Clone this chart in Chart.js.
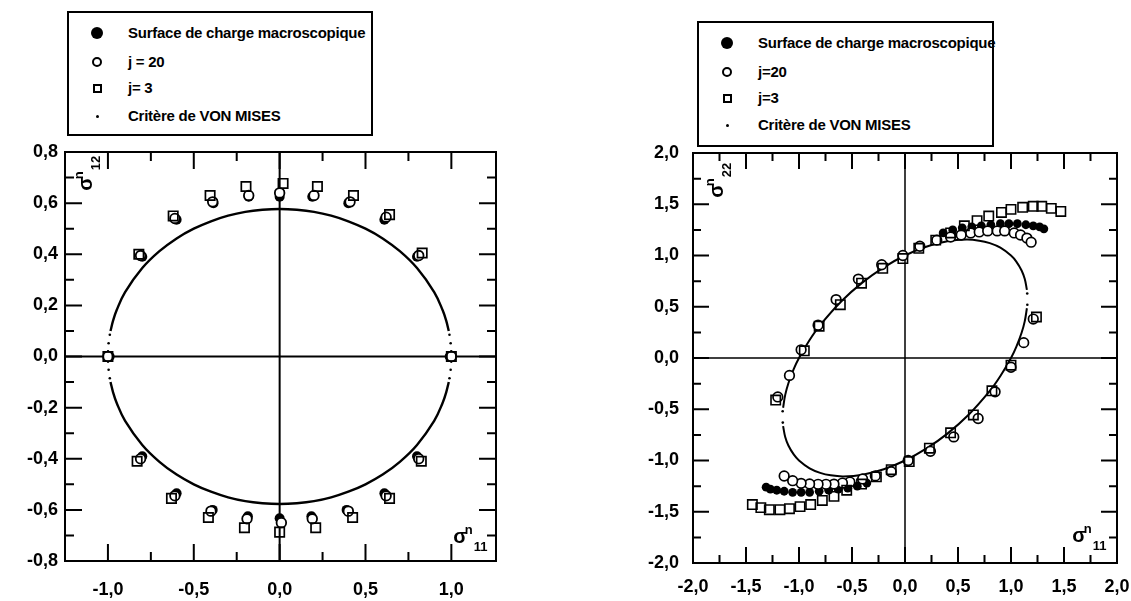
<!DOCTYPE html>
<html>
<head>
<meta charset="utf-8">
<script src="https://cdn.jsdelivr.net/npm/chart.js@4.4.1/dist/chart.umd.min.js"></script>
<style>
  html, body { margin: 0; padding: 0; background: #fff; }
  body { width: 1131px; height: 601px; position: relative; overflow: hidden;
         font-family: "Liberation Sans", Arial, Helvetica, sans-serif; }
  canvas { position: absolute; top: 0; }
  #chartLeft { left: 0; }
  #chartRight { left: 560px; }
  .legend { position: absolute; border: 2px solid #000; box-sizing: border-box; background: #fff; }
  .legend .row { position: absolute; left: 0; right: 0; height: 20px; line-height: 20px;
                 font-weight: bold; font-size: 15px; letter-spacing: -0.25px; color: #000; white-space: nowrap; }
  .legend .mk { position: absolute; top: 50%; box-sizing: border-box; }
  .legend .txt { position: absolute; left: 59px; top: 0; }
  .mk.filled { width: 12px; height: 12px; margin: -6px 0 0 -6px; border-radius: 50%; background: #000; }
  .mk.circle { width: 10px; height: 10px; margin: -5px 0 0 -5px; border-radius: 50%; border: 2px solid #000; }
  .mk.square { width: 9px; height: 9px; margin: -4.5px 0 0 -4.5px; border: 2px solid #000; }
  .mk.dot { width: 3px; height: 3px; margin: -1.5px 0 0 -1.5px; background: #000; border-radius: 50%; }
</style>
</head>
<body>
<div id="legendLeft" class="legend" style="left:67px; top:11px; width:306px; height:125px;"></div>
<div id="legendRight" class="legend" style="left:697px; top:21px; width:297px; height:126px;"></div>
<canvas id="chartLeft" width="560" height="601"></canvas>
<canvas id="chartRight" width="571" height="601"></canvas>
<script>
// ---------- Left panel : sigma11 / sigma12 ----------
const leftXTicks  = [-1.0, -0.5, 0.0, 0.5, 1.0];
const leftXLabels = ['-1,0', '-0,5', '0,0', '0,5', '1,0'];
const leftXMinor  = [-0.75, -0.25, 0.25, 0.75];
const leftYTicks  = [-0.8, -0.6, -0.4, -0.2, 0.0, 0.2, 0.4, 0.6, 0.8];
const leftYLabels = ['-0,8', '-0,6', '-0,4', '-0,2', '0,0', '0,2', '0,4', '0,6', '0,8'];
const leftYMinor  = [-0.7, -0.5, -0.3, -0.1, 0.1, 0.3, 0.5, 0.7];

const leftSurfX = [-0.99, -0.80, -0.60, -0.385, -0.18, 0.0, 0.19, 0.40, 0.61, 0.80, 0.99,
                   -0.80, -0.60, -0.39, -0.185, 0.0, 0.185, 0.39, 0.61, 0.80];
const leftSurfY = [0.0, 0.39, 0.535, 0.60, 0.625, 0.625, 0.625, 0.60, 0.535, 0.39, 0.0,
                   -0.39, -0.535, -0.60, -0.625, -0.633, -0.625, -0.60, -0.535, -0.39];

const leftJ20X = [-1.0, -0.81, -0.61, -0.39, -0.18, 0.0, 0.20, 0.41, 0.62, 0.81, 1.0,
                  -0.81, -0.61, -0.40, -0.19, 0.01, 0.19, 0.40, 0.62, 0.81];
const leftJ20Y = [0.0, 0.395, 0.54, 0.605, 0.63, 0.64, 0.63, 0.605, 0.545, 0.395, 0.0,
                  -0.40, -0.545, -0.605, -0.635, -0.65, -0.635, -0.605, -0.545, -0.40];

const leftJ3X = [-1.0, -0.82, -0.62, -0.405, -0.196, 0.02, 0.22, 0.43, 0.64, 0.83, 1.0,
                 -0.83, -0.63, -0.415, -0.205, 0.0, 0.21, 0.425, 0.64, 0.825];
const leftJ3Y = [0.0, 0.40, 0.55, 0.63, 0.665, 0.677, 0.665, 0.63, 0.555, 0.405, 0.0,
                 -0.41, -0.555, -0.63, -0.67, -0.687, -0.67, -0.63, -0.555, -0.41];

// Von Mises ellipse, solid arcs and the sparse dots near sigma11 = +/-1
const leftVmX     = [-0.985, -0.97, -0.95, -0.9, -0.8, -0.7, -0.6, -0.5, -0.4, -0.3, -0.2, -0.1, 0.0,
                     0.1, 0.2, 0.3, 0.4, 0.5, 0.6, 0.7, 0.8, 0.9, 0.95, 0.97, 0.985];
const leftVmUpper = [0.10, 0.14, 0.18, 0.252, 0.346, 0.412, 0.462, 0.50, 0.529, 0.551, 0.566, 0.574, 0.577,
                     0.574, 0.566, 0.551, 0.529, 0.50, 0.462, 0.412, 0.346, 0.252, 0.18, 0.14, 0.10];
const leftVmLower = [-0.10, -0.14, -0.18, -0.252, -0.346, -0.412, -0.462, -0.50, -0.529, -0.551, -0.566, -0.574, -0.577,
                     -0.574, -0.566, -0.551, -0.529, -0.50, -0.462, -0.412, -0.346, -0.252, -0.18, -0.14, -0.10];
const leftVmDotX  = [-0.989, -0.996, -0.9994, -0.9994, -0.996, -0.989, 0.989, 0.996, 0.9994, 0.9994, 0.996, 0.989];
const leftVmDotY  = [0.085, 0.052, 0.02, -0.02, -0.052, -0.085, 0.085, 0.052, 0.02, -0.02, -0.052, -0.085];

// ---------- Right panel : sigma11 / sigma22 ----------
const rightXTicks  = [-2.0, -1.5, -1.0, -0.5, 0.0, 0.5, 1.0, 1.5, 2.0];
const rightXLabels = ['-2,0', '-1,5', '-1,0', '-0,5', '0,0', '0,5', '1,0', '1,5', '2,0'];
const rightXMinor  = [-1.75, -1.25, -0.75, -0.25, 0.25, 0.75, 1.25, 1.75];
const rightYTicks  = [-2.0, -1.5, -1.0, -0.5, 0.0, 0.5, 1.0, 1.5, 2.0];
const rightYLabels = ['-2,0', '-1,5', '-1,0', '-0,5', '0,0', '0,5', '1,0', '1,5', '2,0'];
const rightYMinor  = [-1.75, -1.25, -0.75, -0.25, 0.25, 0.75, 1.25, 1.75];

const rightSurfX = [-1.09, -0.98, -0.82, -0.65, -0.44, -0.22, -0.02, 0.14,
                    0.36, 0.45, 0.54, 0.63, 0.72, 0.81, 0.90, 0.98, 1.06, 1.14, 1.21, 1.27, 1.31,
                    1.12, 1.0, 0.85, 0.69, 0.46, 0.24, 0.03, -0.13,
                    -0.36, -0.45, -0.54, -0.63, -0.72, -0.81, -0.90, -0.98, -1.06, -1.14, -1.21, -1.27, -1.31];
const rightSurfY = [-0.17, 0.08, 0.32, 0.57, 0.77, 0.91, 1.0, 1.09,
                    1.22, 1.25, 1.27, 1.28, 1.29, 1.30, 1.31, 1.31, 1.31, 1.30, 1.29, 1.28, 1.26,
                    0.15, -0.09, -0.33, -0.59, -0.77, -0.91, -1.0, -1.11,
                    -1.22, -1.25, -1.27, -1.28, -1.29, -1.30, -1.31, -1.31, -1.31, -1.30, -1.29, -1.28, -1.26];

const rightJ20X = [-1.20, -1.09, -0.98, -0.82, -0.65, -0.44, -0.22, -0.02, 0.14, 0.30,
                   0.43, 0.53, 0.62, 0.70, 0.78, 0.87, 0.94, 1.03, 1.09, 1.15, 1.19,
                   1.21, 1.12, 1.0, 0.85, 0.69, 0.46, 0.24, 0.03, -0.13, -0.28,
                   -0.40, -0.52, -0.59, -0.67, -0.745, -0.82, -0.90, -0.98, -1.06, -1.14];
const rightJ20Y = [-0.38, -0.17, 0.08, 0.32, 0.57, 0.77, 0.91, 1.0, 1.09, 1.15,
                   1.18, 1.20, 1.22, 1.23, 1.24, 1.24, 1.24, 1.22, 1.20, 1.17, 1.13,
                   0.38, 0.15, -0.09, -0.33, -0.59, -0.77, -0.91, -1.0, -1.11, -1.15,
                   -1.18, -1.21, -1.22, -1.23, -1.232, -1.232, -1.229, -1.223, -1.197, -1.151];

const rightJ3X = [-1.22, -0.95, -0.81, -0.61, -0.41, -0.21, -0.02, 0.13,
                  0.29, 0.43, 0.56, 0.68, 0.79, 0.91, 1.0, 1.11, 1.21, 1.29, 1.38, 1.47,
                  1.24, 1.0, 0.82, 0.645, 0.43, 0.23, 0.04, -0.13,
                  -0.27, -0.41, -0.55, -0.67, -0.78, -0.89, -0.99, -1.09, -1.18, -1.28, -1.36, -1.44];
const rightJ3Y = [-0.41, 0.07, 0.31, 0.52, 0.73, 0.875, 0.97, 1.07,
                  1.15, 1.22, 1.29, 1.34, 1.385, 1.42, 1.45, 1.47, 1.48, 1.48, 1.46, 1.43,
                  0.40, -0.07, -0.32, -0.556, -0.73, -0.88, -1.01, -1.09,
                  -1.16, -1.23, -1.29, -1.35, -1.39, -1.43, -1.45, -1.47, -1.48, -1.48, -1.46, -1.43];

// Von Mises ellipse in the (sigma11, sigma22) plane: two solid arcs plus sparse dots at the ends
const rightVmArcAX = [1.15, 1.13, 1.1, 1.05, 1.0, 0.9, 0.8, 0.7, 0.58, 0.4, 0.2, 0.0, -0.2, -0.4, -0.6, -0.8, -0.9, -1.0, -1.05, -1.1, -1.13, -1.15];
const rightVmArcAY = [0.665, 0.771, 0.854, 0.941, 1.0, 1.077, 1.121, 1.145, 1.155, 1.138, 1.085, 1.0, 0.885, 0.738, 0.554, 0.321, 0.176, 0.0, -0.109, -0.246, -0.36, -0.485];
const rightVmArcBX = [-1.15, -1.13, -1.1, -1.05, -1.0, -0.9, -0.8, -0.7, -0.58, -0.4, -0.2, 0.0, 0.2, 0.4, 0.6, 0.8, 0.9, 1.0, 1.05, 1.1, 1.13, 1.15];
const rightVmArcBY = [-0.665, -0.771, -0.854, -0.941, -1.0, -1.077, -1.121, -1.145, -1.155, -1.138, -1.085, -1.0, -0.885, -0.738, -0.554, -0.321, -0.176, 0.0, 0.109, 0.246, 0.36, 0.485];
const rightVmDotX  = [1.153, 1.154, -1.153, -1.154];
const rightVmDotY  = [0.63, 0.52, -0.63, -0.52];

// ---------- Legends ----------
const leftLegendLabels  = ['Surface de charge macroscopique', 'j = 20', 'j= 3', 'Critère de VON MISES'];
const rightLegendLabels = ['Surface de charge macroscopique', 'j=20', 'j=3', 'Critère de VON MISES'];
const legendMarkers = ['filled', 'circle', 'square', 'dot'];

function buildLegend(id, labels, rowCenters) {
  const box = document.getElementById(id);
  labels.forEach((label, i) => {
    const row = document.createElement('div');
    row.className = 'row';
    row.style.top = (rowCenters[i] - 10) + 'px';
    const mk = document.createElement('span');
    mk.className = 'mk ' + legendMarkers[i];
    mk.style.left = '28px';
    const txt = document.createElement('span');
    txt.className = 'txt';
    txt.textContent = label;
    row.appendChild(mk);
    row.appendChild(txt);
    box.appendChild(row);
  });
}
buildLegend('legendLeft', leftLegendLabels, [20, 49, 75, 103]);
buildLegend('legendRight', rightLegendLabels, [20, 49, 75, 102]);

// ---------- Chart helpers ----------
const FONT = '"Liberation Sans", Arial, Helvetica, sans-serif';
const pts = (xs, ys) => xs.map((x, i) => ({ x, y: ys[i] }));

function drawSigma(ctx, cx, cy, sub, angle) {
  ctx.save();
  ctx.translate(cx, cy);
  ctx.rotate(angle);
  ctx.fillStyle = '#000';
  ctx.textAlign = 'left';
  ctx.textBaseline = 'alphabetic';
  ctx.font = 'bold 20px ' + FONT;
  const w = ctx.measureText('σ').width;
  ctx.fillText('σ', -w / 2, 6);
  ctx.font = 'bold 13px ' + FONT;
  ctx.fillText('n', w / 2 - 2, -3);
  const wn = ctx.measureText('n').width;
  ctx.fillText(sub, w / 2 + wn - 1, 14);
  ctx.restore();
}

// Box, inward tick marks, zero axes and axis titles
const framePlugin = {
  id: 'frame',
  beforeDatasetsDraw(chart, _args, o) {
    const { ctx, chartArea: a } = chart;
    const x0 = chart.scales.x.getPixelForValue(0);
    const y0 = chart.scales.y.getPixelForValue(0);
    ctx.save();
    ctx.strokeStyle = '#000';
    ctx.lineWidth = o.zeroWidth;
    ctx.beginPath();
    ctx.moveTo(x0, a.top); ctx.lineTo(x0, a.bottom);
    ctx.moveTo(a.left, y0); ctx.lineTo(a.right, y0);
    ctx.stroke();
    ctx.restore();
  },
  afterDatasetsDraw(chart, _args, o) {
    const { ctx, chartArea: a } = chart;
    const sx = chart.scales.x, sy = chart.scales.y;
    ctx.save();
    ctx.strokeStyle = '#000';
    ctx.lineWidth = o.tickWidth;
    ctx.beginPath();
    const vt = (vals, len) => vals.forEach(v => {
      const p = sx.getPixelForValue(v);
      ctx.moveTo(p, a.bottom); ctx.lineTo(p, a.bottom - len);
      ctx.moveTo(p, a.top); ctx.lineTo(p, a.top + len);
    });
    const ht = (vals, len) => vals.forEach(v => {
      const p = sy.getPixelForValue(v);
      ctx.moveTo(a.left, p); ctx.lineTo(a.left + len, p);
      ctx.moveTo(a.right, p); ctx.lineTo(a.right - len, p);
    });
    vt(o.xMajor, o.majorLen); vt(o.xMinor, o.minorLen);
    ht(o.yMajor, o.majorLen); ht(o.yMinor, o.minorLen);
    ctx.stroke();
    ctx.lineWidth = o.boxWidth;
    ctx.strokeRect(a.left, a.top, a.right - a.left, a.bottom - a.top);
    ctx.restore();
    drawSigma(ctx, a.left + o.yTitle[0], a.top + o.yTitle[1], o.yTitle[2], -Math.PI / 2);
    drawSigma(ctx, a.right + o.xTitle[0], a.bottom + o.xTitle[1], o.xTitle[2], 0);
  }
};

function axis(min, max, tickVals, tickLabels, isX, size, pad) {
  return {
    type: 'linear', min, max,
    afterBuildTicks: s => { s.ticks = tickVals.map(v => ({ value: v })); },
    afterFit: s => {
      if (isX) { s.height = size; s.paddingLeft = 0; s.paddingRight = 0; }
      else { s.width = size; s.paddingTop = 0; s.paddingBottom = 0; }
    },
    grid: { display: false, drawTicks: false },
    border: { display: false },
    ticks: {
      autoSkip: false, maxRotation: 0, padding: pad, color: '#000',
      font: { family: FONT, size: 18, weight: 'bold' },
      callback: v => tickLabels[tickVals.findIndex(t => Math.abs(t - v) < 1e-9)]
    }
  };
}

function lineSet(data, width) {
  return { data, showLine: true, tension: 0.4, borderColor: '#000', borderWidth: width,
           pointRadius: 0, fill: false, order: 5 };
}
function dotSet(data) {
  return { data, showLine: false, pointRadius: 1.3, pointBackgroundColor: '#000',
           pointBorderWidth: 0, order: 5 };
}
function markerSet(data, style, radius, fillColor, borderW, order) {
  return { data, showLine: false, pointStyle: style, pointRadius: radius,
           pointBackgroundColor: fillColor, pointBorderColor: '#000', pointBorderWidth: borderW, order };
}

const common = {
  responsive: false, animation: false, events: [],
  plugins: { legend: { display: false }, tooltip: { enabled: false } }
};

// ---------- Left chart ----------
new Chart(document.getElementById('chartLeft'), {
  type: 'scatter',
  data: { datasets: [
    markerSet(pts(leftJ3X, leftJ3Y), 'rect', 6.6, 'rgba(0,0,0,0)', 1.7, 1),
    markerSet(pts(leftJ20X, leftJ20Y), 'circle', 4.8, '#fff', 1.8, 2),
    markerSet(pts(leftSurfX, leftSurfY), 'circle', 5, '#000', 0, 3),
    lineSet(pts(leftVmX, leftVmUpper), 2.4),
    lineSet(pts(leftVmX, leftVmLower), 2.4),
    dotSet(pts(leftVmDotX, leftVmDotY))
  ] },
  options: Object.assign({}, common, {
    layout: { padding: { top: 152, right: 64, bottom: 0, left: 0 } },
    scales: {
      x: axis(-1.25, 1.26, leftXTicks, leftXLabels, true, 40, 18),
      y: axis(-0.8, 0.8, leftYTicks, leftYLabels, false, 65, 7)
    },
    plugins: Object.assign({}, common.plugins, {
      frame: { zeroWidth: 2, tickWidth: 2, boxWidth: 2, majorLen: 17, minorLen: 9,
               xMajor: leftXTicks, xMinor: leftXMinor, yMajor: leftYTicks, yMinor: leftYMinor,
               yTitle: [21, 32, '12'], xTitle: [-36, -24, '11'] }
    })
  }),
  plugins: [framePlugin]
});

// ---------- Right chart ----------
new Chart(document.getElementById('chartRight'), {
  type: 'scatter',
  data: { datasets: [
    markerSet(pts(rightJ3X, rightJ3Y), 'rect', 6.6, 'rgba(0,0,0,0)', 1.6, 1),
    markerSet(pts(rightJ20X, rightJ20Y), 'circle', 4.8, '#fff', 1.7, 2),
    markerSet(pts(rightSurfX, rightSurfY), 'circle', 4.4, '#000', 0, 3),
    lineSet(pts(rightVmArcAX, rightVmArcAY), 2),
    lineSet(pts(rightVmArcBX, rightVmArcBY), 2),
    dotSet(pts(rightVmDotX, rightVmDotY))
  ] },
  options: Object.assign({}, common, {
    layout: { padding: { top: 153, right: 14, bottom: 0, left: 0 } },
    scales: {
      x: axis(-2, 2, rightXTicks, rightXLabels, true, 38, 13),
      y: axis(-2, 2, rightYTicks, rightYLabels, false, 133, 14)
    },
    plugins: Object.assign({}, common.plugins, {
      frame: { zeroWidth: 1.5, tickWidth: 2, boxWidth: 2, majorLen: 16, minorLen: 8,
               xMajor: rightXTicks, xMinor: rightXMinor, yMajor: rightYTicks, yMinor: rightYMinor,
               yTitle: [24, 38, '22'], xTitle: [-38, -27, '11'] }
    })
  }),
  plugins: [framePlugin]
});
</script>
</body>
</html>
